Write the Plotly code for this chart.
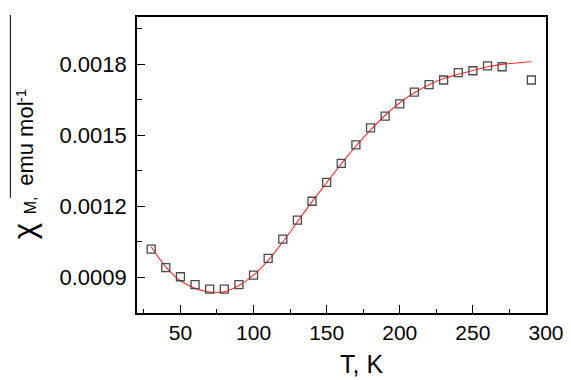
import plotly.graph_objects as go

# Measured data (T in K, chi_M in emu/mol)
T_data = [30, 40, 50, 60, 70, 80, 90, 100, 110, 120, 130, 140, 150, 160, 170,
          180, 190, 200, 210, 220, 230, 240, 250, 260, 270, 290]
chi_data = [0.00102, 0.000942, 0.000903, 0.00087, 0.000851, 0.000851, 0.00087,
            0.00091, 0.000981, 0.001062, 0.001142, 0.001222, 0.001302, 0.001382,
            0.00146, 0.001532, 0.001581, 0.001633, 0.001683, 0.001714, 0.001734,
            0.001765, 0.001773, 0.001794, 0.00179, 0.001734]

# Fitted curve
T_fit = [30, 40, 50, 60, 70, 80, 90, 100, 110, 120, 130, 140, 150, 160, 170,
         180, 190, 200, 210, 220, 230, 240, 250, 260, 270, 280, 290]
chi_fit = [0.00103, 0.000945, 0.000886, 0.000854, 0.000838, 0.00084, 0.000866,
           0.00091, 0.000972, 0.00105, 0.001135, 0.00122, 0.0013, 0.00138,
           0.001455, 0.001522, 0.001585, 0.001638, 0.00168, 0.001714, 0.00174,
           0.001758, 0.001774, 0.00179, 0.0018, 0.001806, 0.001811]

x_ticks = [50, 100, 150, 200, 250, 300]
y_ticks = [0.0009, 0.0012, 0.0015, 0.0018]
y_tick_labels = ["0.0009", "0.0012", "0.0015", "0.0018"]

FONT = "Arial, Liberation Sans, sans-serif"

# The page body has an 8px default margin; compensate so the picture lines up.
OFF = 8
W, H = 571 - OFF, 380 - OFF
ML, MR, MT, MB = 137 - OFF, 19, 15 - OFF, 67
PW, PH = W - ML - MR, H - MT - MB

def px(x_page):
    return (x_page - OFF - ML) / PW

def py(y_page):
    return (H - MB - (y_page - OFF)) / PH

fig = go.Figure()
fig.add_trace(go.Scatter(x=T_fit, y=chi_fit, mode="lines", line_shape="spline",
                         line=dict(color="#ff3030", width=1.1), showlegend=False))
fig.add_trace(go.Scatter(x=T_data, y=chi_data, mode="markers", showlegend=False,
                         marker=dict(symbol="square-open", size=8,
                                     color="#4a4a4a", line=dict(width=1.3))))

fig.update_layout(
    width=W, height=H,
    margin=dict(l=ML, r=MR, t=MT, b=MB),
    plot_bgcolor="white", paper_bgcolor="white",
    font=dict(family=FONT, color="black"),
    xaxis=dict(range=[20.3, 300], tickvals=x_ticks, ticks="inside", ticklen=8,
               tickwidth=1.3, tickcolor="black", showline=True, linecolor="black",
               linewidth=1.6, mirror=True, showgrid=False, zeroline=False,
               tickfont=dict(size=21),
               minor=dict(ticks="inside", ticklen=4.5, tickwidth=1.2,
                          tickcolor="black", dtick=25, tick0=0, showgrid=False)),
    yaxis=dict(range=[0.00075, 0.002], tickvals=y_ticks, ticktext=y_tick_labels,
               ticks="inside", ticklen=8, tickwidth=1.3, tickcolor="black",
               showline=True, linecolor="black", linewidth=1.6, mirror=True,
               showgrid=False, zeroline=False, tickfont=dict(size=22),
               ticklabelstandoff=4,
               minor=dict(ticks="inside", ticklen=5, tickwidth=1.2,
                          tickcolor="black", dtick=0.00015, tick0=0.0009,
                          showgrid=False)),
)

ann = [
    dict(text="T, K", x=px(365), y=py(364), size=25, angle=0),
    dict(text="χ", x=px(23), y=py(231), size=31, angle=-90),
    dict(text="M,", x=px(29), y=py(205), size=16, angle=-90),
    dict(text="emu mol", x=px(23), y=py(143), size=22, angle=-90),
    dict(text="-1", x=px(19), y=py(94), size=15, angle=-90),
]
for a in ann:
    fig.add_annotation(text=a["text"], x=a["x"], y=a["y"], xref="paper", yref="paper",
                       xanchor="center", yanchor="middle", showarrow=False,
                       textangle=a["angle"], font=dict(size=a["size"], family=FONT,
                                                       color="black"))

fig.add_shape(type="line", xref="paper", yref="paper", x0=px(8.6), x1=px(8.6),
              y0=py(13), y1=py(197), line=dict(color="#222", width=1.2))

fig.write_html("out.html")
